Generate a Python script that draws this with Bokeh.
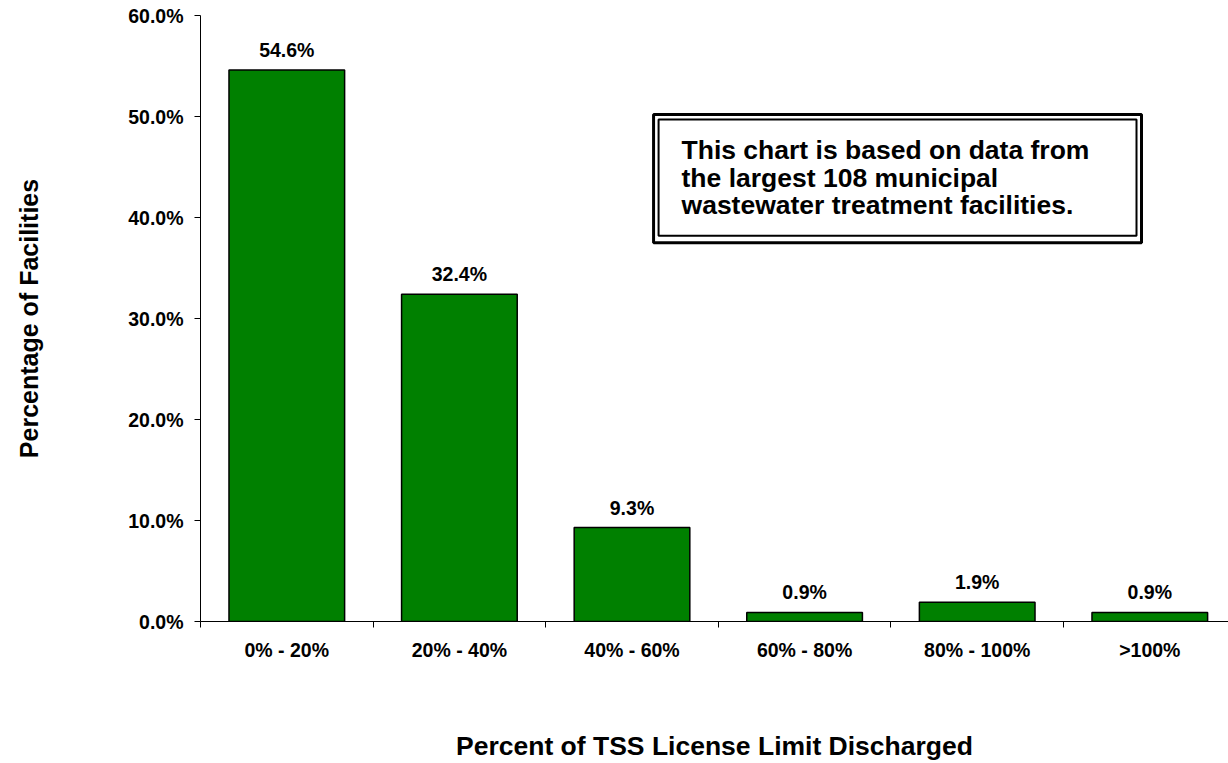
from bokeh.plotting import figure
from bokeh.models import (ColumnDataSource, FixedTicker, PrintfTickFormatter, Range1d)
from bokeh.core.properties import value
from bokeh.embed import file_html
from bokeh.resources import INLINE

categories = ["0% - 20%", "20% - 40%", "40% - 60%", "60% - 80%", "80% - 100%", ">100%"]
percentages = [54.6, 32.4, 9.3, 0.9, 1.9, 0.9]
value_labels = ["54.6%", "32.4%", "9.3%", "0.9%", "1.9%", "0.9%"]
y_ticks = [0, 10, 20, 30, 40, 50, 60]
note_lines = ["This chart is based on data from",
              "the largest 108 municipal",
              "wastewater treatment facilities."]

FONT = "Liberation Sans"
xs = [i + 0.5 for i in range(len(categories))]
src = ColumnDataSource(dict(x=xs, top=percentages, label=value_labels))

p = figure(width=1228, height=763, output_backend="svg", toolbar_location=None,
           x_range=Range1d(0, 5.956), y_range=Range1d(0, 60),
           min_border_left=200, min_border_right=0, min_border_top=15,
           min_border_bottom=141)
p.outline_line_color = None
p.xgrid.visible = False
p.ygrid.visible = False
p.background_fill_color = "white"
p.border_fill_color = "white"

p.vbar(x="x", top="top", width=0.67, bottom=0, source=src,
       fill_color="#008000", line_color="black", line_width=1.5)
p.text(x="x", y="top", text="label", source=src, text_align="center",
       text_baseline="alphabetic", y_offset=-20,
       text_font=value(FONT), text_font_style="bold", text_font_size="19.5px",
       text_color="black")

# note box (double border)
p.quad(left=[2.625], right=[5.452], bottom=[37.5], top=[50.2],
       fill_color="white", line_color="black", line_width=3)
p.quad(left=[2.654], right=[5.423], bottom=[38.2], top=[49.7],
       fill_alpha=0, line_color="black", line_width=2)
note_src = ColumnDataSource(dict(x=[2.787] * 3, y=[46.64, 43.87, 41.21], t=note_lines))
p.text(x="x", y="y", text="t", source=note_src, text_align="left",
       text_baseline="alphabetic", text_font=value(FONT), text_font_style="bold",
       text_font_size="26.5px", text_color="black")

# x axis
xa = p.xaxis[0]
xa.ticker = FixedTicker(ticks=xs, minor_ticks=list(range(0, 7)))
xa.major_label_overrides = {x: c for x, c in zip(xs, categories)}
xa.major_tick_line_color = None
xa.major_tick_out = 6
xa.major_tick_in = 0
xa.minor_tick_out = 6
xa.minor_tick_in = 0
xa.minor_tick_line_color = "black"
xa.axis_line_color = "black"
xa.major_label_standoff = 11
xa.major_label_text_font = FONT
xa.major_label_text_font_style = "bold"
xa.major_label_text_font_size = "19.5px"
xa.major_label_text_color = "black"
xa.axis_label = "Percent of TSS License Limit Discharged"
xa.axis_label_text_font = FONT
xa.axis_label_text_font_style = "bold"
xa.axis_label_text_font_size = "26.5px"
xa.axis_label_text_color = "black"
xa.axis_label_standoff = 67

# y axis
ya = p.yaxis[0]
ya.ticker = FixedTicker(ticks=y_ticks, minor_ticks=[])
ya.formatter = PrintfTickFormatter(format="%.1f%%")
ya.major_tick_out = 6
ya.major_tick_in = 0
ya.major_tick_line_color = "black"
ya.axis_line_color = "black"
ya.major_label_standoff = 11
ya.major_label_text_font = FONT
ya.major_label_text_font_style = "bold"
ya.major_label_text_font_size = "19.5px"
ya.major_label_text_color = "black"
ya.axis_label = "Percentage of Facilities"
ya.axis_label_text_font = FONT
ya.axis_label_text_font_style = "bold"
ya.axis_label_text_font_size = "25px"
ya.axis_label_text_color = "black"
ya.axis_label_standoff = 82

open("out.html", "w").write(file_html(p, INLINE))
